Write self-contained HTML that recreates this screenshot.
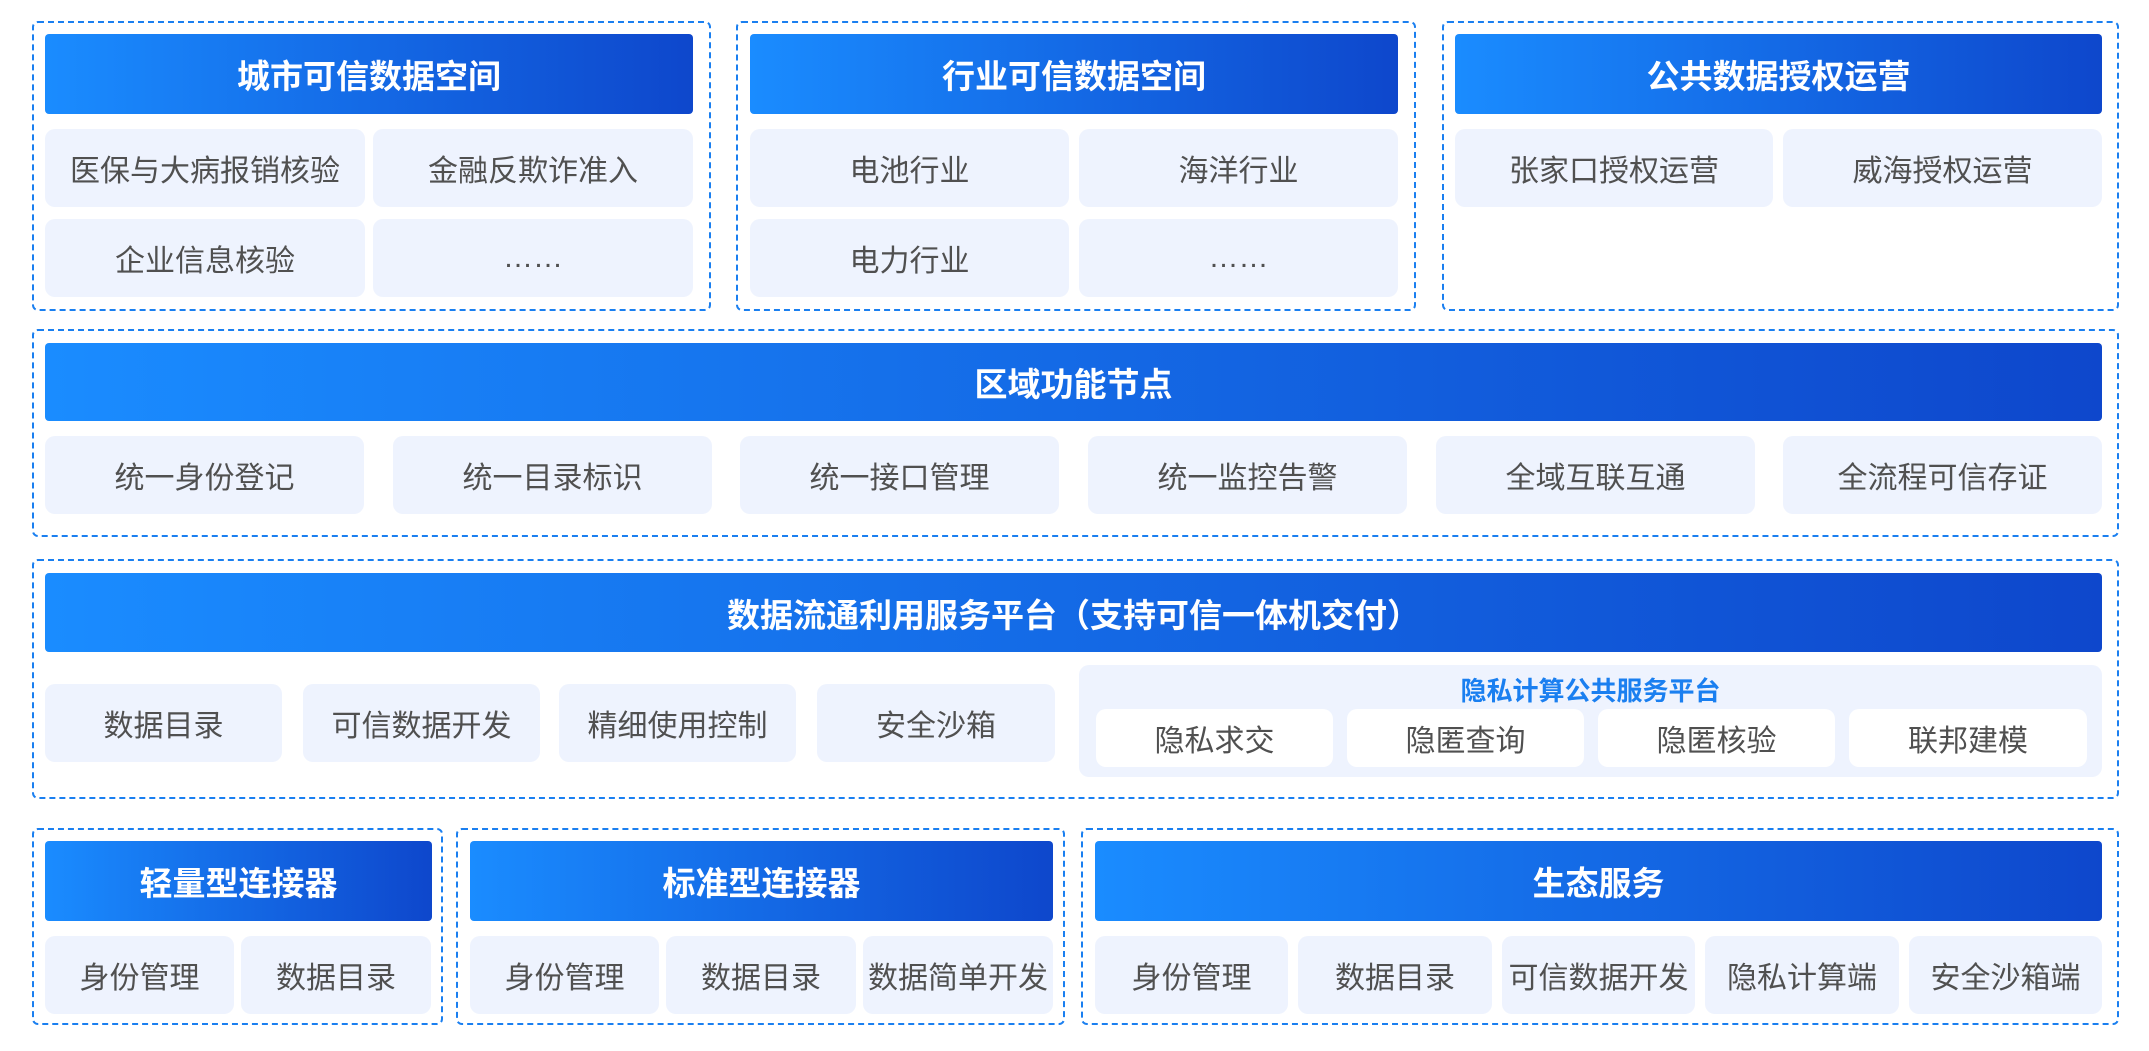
<!DOCTYPE html>
<html><head><meta charset="utf-8"><style>
body{margin:0;width:2149px;height:1051px;background:#fff;position:relative;overflow:hidden;font-family:"Liberation Sans","Noto Sans CJK SC",sans-serif}
.b{position:absolute;border:2px dashed #1a7ff0;border-radius:6px;box-sizing:border-box}
.h{position:absolute;background:linear-gradient(90deg,#1a8cff,#0e47cc);color:#fff;font-weight:bold;font-size:33px;display:flex;align-items:center;justify-content:center;border-radius:4px}
.c{position:absolute;background:#eef3fe;color:#505050;font-size:30px;display:flex;align-items:center;justify-content:center;border-radius:10px;white-space:nowrap}
.w{background:#fff}
</style></head><body>
<div class="b" style="left:32px;top:21px;width:679px;height:290px"></div>
<div class="b" style="left:736px;top:21px;width:680px;height:290px"></div>
<div class="b" style="left:1442px;top:21px;width:677px;height:290px"></div>
<div class="h" style="left:45px;top:34px;width:648px;height:80px">城市可信数据空间</div>
<div class="h" style="left:750px;top:34px;width:648px;height:80px">行业可信数据空间</div>
<div class="h" style="left:1455px;top:34px;width:647px;height:80px">公共数据授权运营</div>
<div class="c" style="left:45px;top:129px;width:320px;height:78px">医保与大病报销核验</div>
<div class="c" style="left:373px;top:129px;width:320px;height:78px">金融反欺诈准入</div>
<div class="c" style="left:45px;top:219px;width:320px;height:78px">企业信息核验</div>
<div class="c" style="left:373px;top:219px;width:320px;height:78px">……</div>
<div class="c" style="left:750px;top:129px;width:319px;height:78px">电池行业</div>
<div class="c" style="left:1079px;top:129px;width:319px;height:78px">海洋行业</div>
<div class="c" style="left:750px;top:219px;width:319px;height:78px">电力行业</div>
<div class="c" style="left:1079px;top:219px;width:319px;height:78px">……</div>
<div class="c" style="left:1455px;top:129px;width:318px;height:78px">张家口授权运营</div>
<div class="c" style="left:1783px;top:129px;width:319px;height:78px">威海授权运营</div>
<div class="b" style="left:32px;top:329px;width:2087px;height:208px"></div>
<div class="h" style="left:45px;top:343px;width:2057px;height:78px">区域功能节点</div>
<div class="c" style="left:45px;top:436px;width:319px;height:78px">统一身份登记</div>
<div class="c" style="left:393px;top:436px;width:319px;height:78px">统一目录标识</div>
<div class="c" style="left:740px;top:436px;width:319px;height:78px">统一接口管理</div>
<div class="c" style="left:1088px;top:436px;width:319px;height:78px">统一监控告警</div>
<div class="c" style="left:1436px;top:436px;width:319px;height:78px">全域互联互通</div>
<div class="c" style="left:1783px;top:436px;width:319px;height:78px">全流程可信存证</div>
<div class="b" style="left:32px;top:559px;width:2087px;height:240px"></div>
<div class="h" style="left:45px;top:573px;width:2057px;height:79px">数据流通利用服务平台（支持可信一体机交付）</div>
<div class="c" style="left:45px;top:684px;width:237px;height:78px">数据目录</div>
<div class="c" style="left:303px;top:684px;width:237px;height:78px">可信数据开发</div>
<div class="c" style="left:559px;top:684px;width:237px;height:78px">精细使用控制</div>
<div class="c" style="left:817px;top:684px;width:238px;height:78px">安全沙箱</div>
<div style="position:absolute;left:1079px;top:665px;width:1023px;height:112px;background:#eef3fe;border-radius:10px"></div>
<div style="position:absolute;left:1079px;top:671px;width:1023px;text-align:center;color:#1a7ff0;font-weight:bold;font-size:26px">隐私计算公共服务平台</div>
<div class="c w" style="left:1096px;top:709px;width:237px;height:58px">隐私求交</div>
<div class="c w" style="left:1347px;top:709px;width:237px;height:58px">隐匿查询</div>
<div class="c w" style="left:1598px;top:709px;width:237px;height:58px">隐匿核验</div>
<div class="c w" style="left:1849px;top:709px;width:238px;height:58px">联邦建模</div>
<div class="b" style="left:32px;top:828px;width:411px;height:197px"></div>
<div class="b" style="left:456px;top:828px;width:609px;height:197px"></div>
<div class="b" style="left:1081px;top:828px;width:1038px;height:197px"></div>
<div class="h" style="left:45px;top:841px;width:387px;height:80px">轻量型连接器</div>
<div class="h" style="left:470px;top:841px;width:583px;height:80px">标准型连接器</div>
<div class="h" style="left:1095px;top:841px;width:1007px;height:80px">生态服务</div>
<div class="c" style="left:45px;top:936px;width:189px;height:78px">身份管理</div>
<div class="c" style="left:241px;top:936px;width:190px;height:78px">数据目录</div>
<div class="c" style="left:470px;top:936px;width:189px;height:78px">身份管理</div>
<div class="c" style="left:666px;top:936px;width:190px;height:78px">数据目录</div>
<div class="c" style="left:863px;top:936px;width:190px;height:78px">数据简单开发</div>
<div class="c" style="left:1095px;top:936px;width:193px;height:78px">身份管理</div>
<div class="c" style="left:1298px;top:936px;width:194px;height:78px">数据目录</div>
<div class="c" style="left:1502px;top:936px;width:193px;height:78px">可信数据开发</div>
<div class="c" style="left:1705px;top:936px;width:194px;height:78px">隐私计算端</div>
<div class="c" style="left:1909px;top:936px;width:193px;height:78px">安全沙箱端</div>
</body></html>
